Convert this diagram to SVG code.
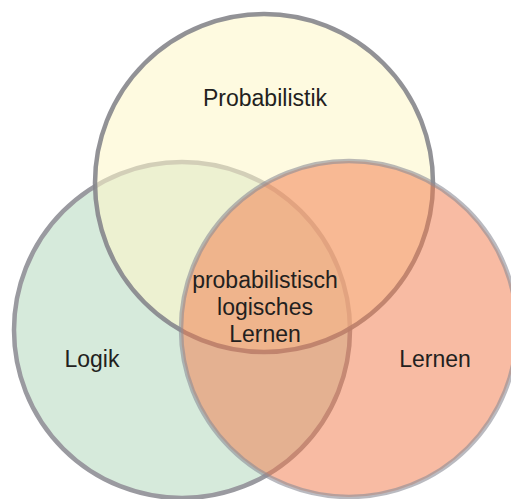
<svg xmlns="http://www.w3.org/2000/svg" width="511" height="499" viewBox="0 0 511 499">
<style>
text{font-family:"Liberation Sans",Arial,sans-serif;font-size:23px;fill:#231f20;text-anchor:middle}
.c{stroke-width:4.5}
</style>
<rect width="511" height="499" fill="#ffffff"/>
<g id="logik">
<circle class="c" cx="182" cy="330" r="168" fill="#d6eadb" stroke="#9a9aa0"/>
</g>
<g id="probabilistik">
<circle class="c" cx="264" cy="183" r="169" fill="#fdf6ca" fill-opacity="0.58" stroke="#86868c" stroke-opacity="0.9"/>
</g>
<g id="lernen">
<circle class="c" cx="349" cy="329" r="168" fill="#f17747" fill-opacity="0.5" stroke="#8c8c96" stroke-opacity="0.6"/>
</g>
<g id="labels">
<text x="265" y="106">Probabilistik</text>
<text x="92" y="367">Logik</text>
<text x="435" y="367">Lernen</text>
<text x="265" y="288">probabilistisch</text>
<text x="265" y="315">logisches</text>
<text x="265" y="342">Lernen</text>
</g>
</svg>
